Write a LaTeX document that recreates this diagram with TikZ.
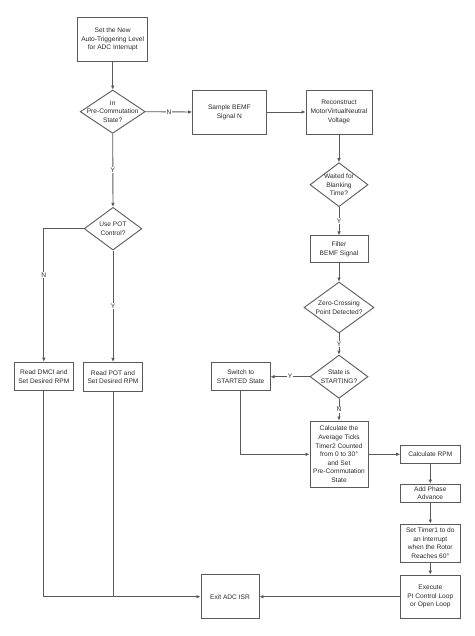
\documentclass[tikz,border=0pt]{standalone}
\usepackage{fontspec}
\setmainfont{Liberation Sans}
\usetikzlibrary{shapes.geometric,arrows.meta}
\definecolor{ln}{HTML}{5A5A5A}
\definecolor{tx}{HTML}{2A2A2A}
\tikzset{
  box/.style={draw=ln, line width=0.9pt, rectangle, inner sep=0pt, align=center, text=tx,
     font=\fontsize{6.6}{8.6}\selectfont},
  dia/.style={draw=ln, line width=0.9pt, diamond, inner sep=0pt},
  dtxt/.style={align=center, text=tx, inner sep=0pt, font=\fontsize{6.6}{8.6}\selectfont},
  conn/.style={draw=ln, line width=0.9pt, -{Latex[length=4pt,width=3.6pt]}},
  plain/.style={draw=ln, line width=0.9pt},
  lab/.style={fill=white, inner sep=0.8pt, text=tx, font=\fontsize{6.6}{8}\selectfont}
}
\begin{document}
\begin{tikzpicture}[x=1pt,y=-1pt]
\useasboundingbox[fill=white] (0,0) rectangle (474,636);

\node[box, minimum width=70pt, minimum height=44pt] (b1) at (112.7,39.3) {Set the New\\Auto-Triggering Level\\for ADC Interrupt};
\node[dia, minimum width=65pt, minimum height=43.4pt] (d1) at (112.7,111.7) {};
\node[dtxt] (d1t) at (d1.center) {In\\Pre-Commutation\\State?};
\node[box, minimum width=73.3pt, minimum height=44pt] (smp) at (229.3,112) {Sample BEMF\\Signal N};
\node[box, minimum width=66pt, minimum height=44pt] (rec) at (339,112) {Reconstruct\\MotorVirtualNeutral\\Voltage};
\node[dia, minimum width=58pt, minimum height=44pt] (d3) at (339,184.7) {};
\node[dtxt] (d3t) at (d3.center) {Waited for\\Blanking\\Time?};
\node[box, minimum width=58pt, minimum height=26.3pt] (flt) at (339,249) {Filter\\BEMF Signal};
\node[dia, minimum width=70pt, minimum height=51pt] (d4) at (339,307.5) {};
\node[dtxt] (d4t) at (d4.center) {Zero-Crossing\\Point Detected?};
\node[dia, minimum width=58pt, minimum height=43.3pt] (d5) at (339,376.7) {};
\node[dtxt] (d5t) at (d5.center) {State is\\STARTING?};
\node[box, minimum width=58.7pt, minimum height=28pt] (sw) at (240.7,376.7) {Switch to\\STARTED State};
\node[box, minimum width=58pt, minimum height=66.7pt] (calc) at (339,454.3) {Calculate the\\Average Ticks\\Timer2 Counted\\from 0 to 30°\\and Set\\Pre-Commutation\\State};
\node[box, minimum width=59.3pt, minimum height=18.3pt] (rpm) at (430.3,454.3) {Calculate RPM};
\node[box, minimum width=59.3pt, minimum height=18.3pt] (ph) at (430.3,493.2) {Add Phase\\Advance};
\node[box, minimum width=59.3pt, minimum height=38.7pt] (tim) at (430.3,543.3) {Set Timer1 to do\\an Interrupt\\when the Rotor\\Reaches 60°};
\node[box, minimum width=59.3pt, minimum height=43.3pt] (pi) at (430.3,596.7) {Execute\\PI Control Loop\\or Open Loop};
\node[box, minimum width=58pt, minimum height=44pt] (ex) at (230,596.7) {Exit ADC ISR};
\node[dia, minimum width=57.7pt, minimum height=42.7pt] (d2) at (113,228.7) {};
\node[dtxt] (d2t) at (d2.center) {Use POT\\Control?};
\node[box, minimum width=59pt, minimum height=28.7pt] (dm) at (43.8,376.5) {Read DMCI and\\Set Desired RPM};
\node[box, minimum width=59.3pt, minimum height=29.3pt] (pot) at (113,377) {Read POT and\\Set Desired RPM};

\draw[conn] (b1.south) -- (d1.north);
\draw[conn] (d1.east) -- node[lab]{N} (smp.west);
\draw[conn] (d1.south) -- node[lab]{Y} (d2.north);
\draw[conn] (smp.east) -- (rec.west);
\draw[conn] (rec.south) -- (d3.north);
\draw[conn] (d3.south) -- node[lab]{Y} (flt.north);
\draw[conn] (flt.south) -- (d4.north);
\draw[conn] (d4.south) -- node[lab]{Y} (d5.north);
\draw[conn] (d5.west) -- node[lab]{Y} (sw.east);
\draw[conn] (d5.south) -- node[lab]{N} (calc.north);
\draw[conn] (sw.south) |- (calc.west);
\draw[conn] (calc.east) -- (rpm.west);
\draw[conn] (rpm.south) -- (ph.north);
\draw[conn] (ph.south) -- (tim.north);
\draw[conn] (tim.south) -- (pi.north);
\draw[conn] (pi.west) -- (ex.west -| ex.east);
\draw[conn] (d2.west) -| node[lab, pos=0.675]{N} (dm.north);
\draw[conn] (d2.south) -- node[lab]{Y} (pot.north);
\draw[conn] (dm.south) |- (ex.west);
\draw[plain] (pot.south) -- (pot.south |- ex.west);
\end{tikzpicture}
\end{document}
